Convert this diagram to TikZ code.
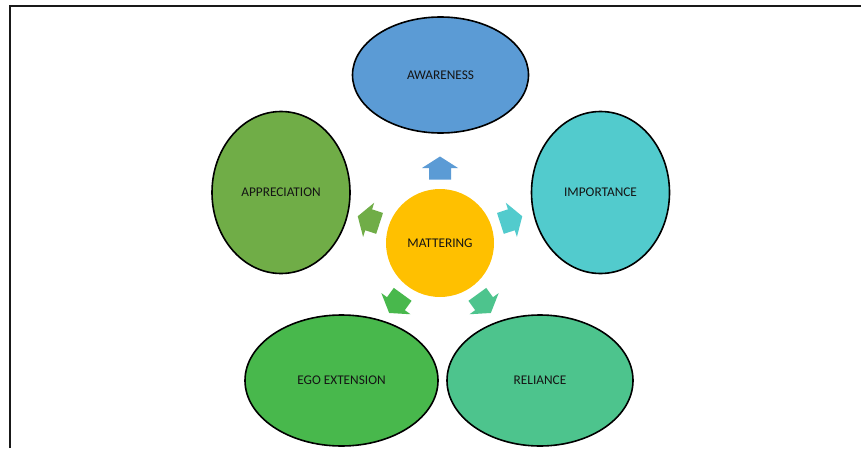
\documentclass[tikz,border=0pt]{standalone}
\usepackage{fontspec}
\setmainfont{Carlito}
\usetikzlibrary{shapes.geometric,calc}
\definecolor{cAware}{HTML}{5B9BD5}
\definecolor{cImport}{HTML}{52CBCD}
\definecolor{cReli}{HTML}{4DC48D}
\definecolor{cEgo}{HTML}{48B84C}
\definecolor{cAppr}{HTML}{70AD47}
\definecolor{cMatt}{HTML}{FFC000}
\definecolor{cText}{HTML}{141414}
\tikzset{
  bubble/.style={ellipse, draw=black, line width=1.6pt, inner sep=0pt,
    font=\fontsize{13.3}{15}\selectfont, text=cText},
  core/.style={circle, inner sep=0pt, minimum size=108pt,
    font=\fontsize{13.3}{15}\selectfont, text=cText},
  blockarrow/.pic={
    \fill[pic actions] (-11.5,-11) -- (0,-11) -- (0,-18) -- (11.5,0) -- (0,18) -- (0,11) -- (-11.5,11) -- cycle;
  }
}
\begin{document}
\begin{tikzpicture}[x=1pt,y=1pt]
\useasboundingbox (0,0) rectangle (861,448);
\fill[white] (0,0) rectangle (861,448);
% frame
\draw[line width=2pt, black!90] (10,0) -- (10,441.5) -- (861,441.5);
% centre
\node[core, fill=cMatt] (matt) at (440,205) {MATTERING};
% outer ellipses
\node[bubble, fill=cAware, minimum width=176pt, minimum height=116pt] (aware) at (440.5,373) {AWARENESS};
\node[bubble, fill=cImport, minimum width=138pt, minimum height=162pt] (import) at (600.5,255.5) {IMPORTANCE};
\node[bubble, fill=cReli, minimum width=186pt, minimum height=131pt] (reli) at (540,67.5) {RELIANCE};
\node[bubble, fill=cEgo, minimum width=193pt, minimum height=131pt] (ego) at (341.5,67.5) {EGO EXTENSION};
\node[bubble, fill=cAppr, minimum width=138pt, minimum height=162pt] (appr) at (281,255.5) {APPRECIATION};
% block arrows
\pic[fill=cAware, rotate=90] at ($(matt.center)+(90:75)$) {blockarrow};
\pic[fill=cImport, rotate=18] at ($(matt.center)+(18:75)$) {blockarrow};
\pic[fill=cReli, rotate=-54] at ($(matt.center)+(-54:75)$) {blockarrow};
\pic[fill=cEgo, rotate=-126] at ($(matt.center)+(-126:75)$) {blockarrow};
\pic[fill=cAppr, rotate=162] at ($(matt.center)+(162:75)$) {blockarrow};
\end{tikzpicture}
\end{document}
